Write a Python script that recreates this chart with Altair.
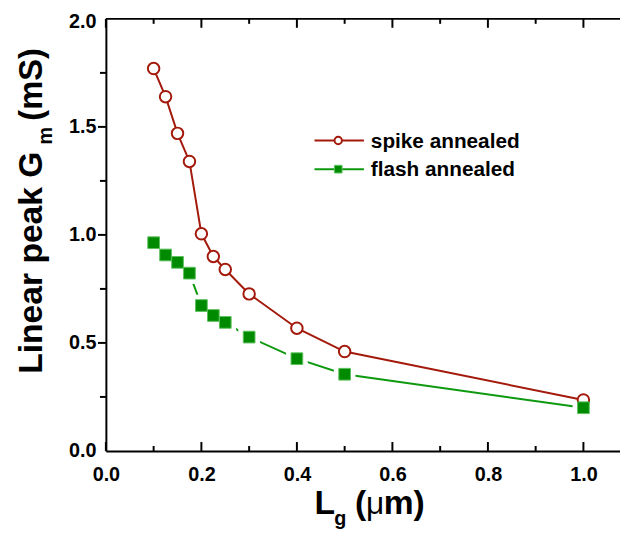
import altair as alt
import pandas as pd

# ---- data ----
lg = [0.1, 0.125, 0.15, 0.175, 0.2, 0.225, 0.25, 0.3, 0.4, 0.5, 1.0]
spike = [1.77, 1.64, 1.47, 1.34, 1.005, 0.90, 0.84, 0.727, 0.568, 0.46, 0.236]
flash = [0.964, 0.907, 0.873, 0.823, 0.673, 0.627, 0.595, 0.527, 0.427, 0.355, 0.20]

x_major = [0.0, 0.2, 0.4, 0.6, 0.8, 1.0]
x_minor = [0.1, 0.3, 0.5, 0.7, 0.9]
y_major = [0.5, 1.0, 1.5]
y_minor = [0.25, 0.75, 1.25, 1.75]
y_labels = [0.0, 0.5, 1.0, 1.5, 2.0]

series_names = ["spike annealed", "flash annealed"]

RED = "#A3190B"
GREEN = "#0E990E"
GREEN_FILL = "#008A00"
GREEN_EDGE = "#5CC05C"
FONT = "Liberation Sans"

W, H = 520, 437
TOP = 8
XMAX = W / 483.0

df = pd.DataFrame({"lg": lg, "spike": spike, "flash": flash})
one = pd.DataFrame({"k": [0]})

xs = alt.Scale(domain=[0, XMAX], nice=False, zero=False)
ys = alt.Scale(domain=[0, 2.0], nice=False)

x_axis = alt.Axis(values=x_major, format=".1f", ticks=False, tickSize=0, grid=False,
                  labelPadding=14, labelFlush=False, title=None,
                  labelFont=FONT, labelFontSize=20, labelFontWeight="bold",
                  labelColor="black", domainColor="black", domainWidth=2)
y_axis = alt.Axis(values=y_labels, format=".1f", ticks=False, tickSize=0, grid=False,
                  labelPadding=10, labelFlush=False, title=None,
                  labelOffset={"condition": {"test": "datum.value == 2", "value": 3}, "value": 0},
                  labelFont=FONT, labelFontSize=20, labelFontWeight="bold",
                  labelColor="black", domainColor="black", domainWidth=2)

X = alt.X("lg:Q", scale=xs, axis=x_axis)

base = alt.Chart(df)

green_line = base.mark_line(color=GREEN, strokeWidth=2).encode(
    x=X, y=alt.Y("flash:Q", scale=ys, axis=y_axis))
halo = base.mark_point(shape="square", filled=True, color="white", opacity=1, size=480).encode(
    x=alt.X("lg:Q", scale=xs), y=alt.Y("flash:Q", scale=ys))
red_line = base.mark_line(color=RED, strokeWidth=2).encode(
    x=alt.X("lg:Q", scale=xs), y=alt.Y("spike:Q", scale=ys))
red_pts = base.mark_point(shape="circle", filled=False, fill="white", fillOpacity=1,
                          color=RED, strokeWidth=2, opacity=1, size=135).encode(
    x=alt.X("lg:Q", scale=xs), y=alt.Y("spike:Q", scale=ys))
green_pts = base.mark_point(shape="square", filled=True, fill=GREEN_FILL, stroke=GREEN_EDGE,
                            strokeWidth=1, opacity=1, size=140).encode(
    x=alt.X("lg:Q", scale=xs), y=alt.Y("flash:Q", scale=ys))

# ---- inward / outward ticks ----
xmaj = pd.DataFrame({"v": x_major})
xmin = pd.DataFrame({"v": x_minor})
ymaj = pd.DataFrame({"v": y_major})
ymin = pd.DataFrame({"v": y_minor})

def xticks(d, y0, y1):
    return alt.Chart(d).mark_rule(color="black", strokeWidth=2).encode(
        x=alt.X("v:Q", scale=xs), y=alt.value(y0), y2=alt.value(y1))

def yticks(d, length):
    return alt.Chart(d).mark_rule(color="black", strokeWidth=2).encode(
        y=alt.Y("v:Q", scale=ys), x=alt.value(0), x2=alt.value(-length))

tick_layers = [
    xticks(xmaj, H, H - 9), xticks(xmin, H, H - 5),
    xticks(xmaj, 0, 9), xticks(xmin, 0, 5),
    yticks(ymaj, 8), yticks(ymin, 6),
]
top_line = alt.Chart(one).mark_rule(color="black", strokeWidth=2).encode(
    x=alt.value(0), x2=alt.value(W), y=alt.value(0))

# ---- legend (plot-pixel positions, top of plot = page y 16) ----
def leg_line(color, y):
    return alt.Chart(one).mark_rule(color=color, strokeWidth=2).encode(
        x=alt.value(211), x2=alt.value(261), y=alt.value(y))

leg = [
    leg_line(RED, 123),
    alt.Chart(one).mark_point(shape="circle", filled=False, fill="white", fillOpacity=1,
                              color=RED, strokeWidth=2, opacity=1, size=55).encode(
        x=alt.value(235), y=alt.value(123)),
    leg_line(GREEN, 152),
    alt.Chart(one).mark_point(shape="square", filled=True, fill=GREEN_FILL, stroke=GREEN_EDGE,
                              strokeWidth=1, opacity=1, size=60).encode(
        x=alt.value(235), y=alt.value(152)),
    alt.Chart(one).mark_text(text=series_names[0], font=FONT, fontSize=21, fontWeight="bold",
                             align="left", baseline="middle", color="black").encode(
        x=alt.value(268), y=alt.value(125)),
    alt.Chart(one).mark_text(text=series_names[1], font=FONT, fontSize=21, fontWeight="bold",
                             align="left", baseline="middle", color="black").encode(
        x=alt.value(268), y=alt.value(153)),
]

# ---- axis titles with subscripts ----
def txt(s, x, y, size, angle=0, weight="bold"):
    return alt.Chart(one).mark_text(text=s, font=FONT, fontSize=size, fontWeight=weight,
                                    align="left", baseline="alphabetic", angle=angle,
                                    color="black").encode(x=alt.value(x), y=alt.value(y))

titles = [
    txt("Linear peak G", -65, 359, 34, 270),
    txt("m", -55, 127, 20, 270),
    txt("(mS)", -65, 103, 33, 270),
    txt("L", 211, 501, 34),
    txt("g", 231, 512, 20),
    txt("(", 252, 501, 34),
    txt("μ", 263, 501, 32, 0, "normal"),
    txt("m)", 281, 501, 34),
]

chart = alt.layer(
    green_line, halo, red_line, red_pts, green_pts,
    top_line, *tick_layers, *leg, *titles
).properties(
    width=W, height=H,
    autosize=alt.AutoSizeParams(type="none"),
    padding={"left": 99, "top": TOP, "right": 0, "bottom": 80},
).configure_view(stroke=None)

chart.save("out.html", embed_options={"renderer": "svg", "actions": False})
